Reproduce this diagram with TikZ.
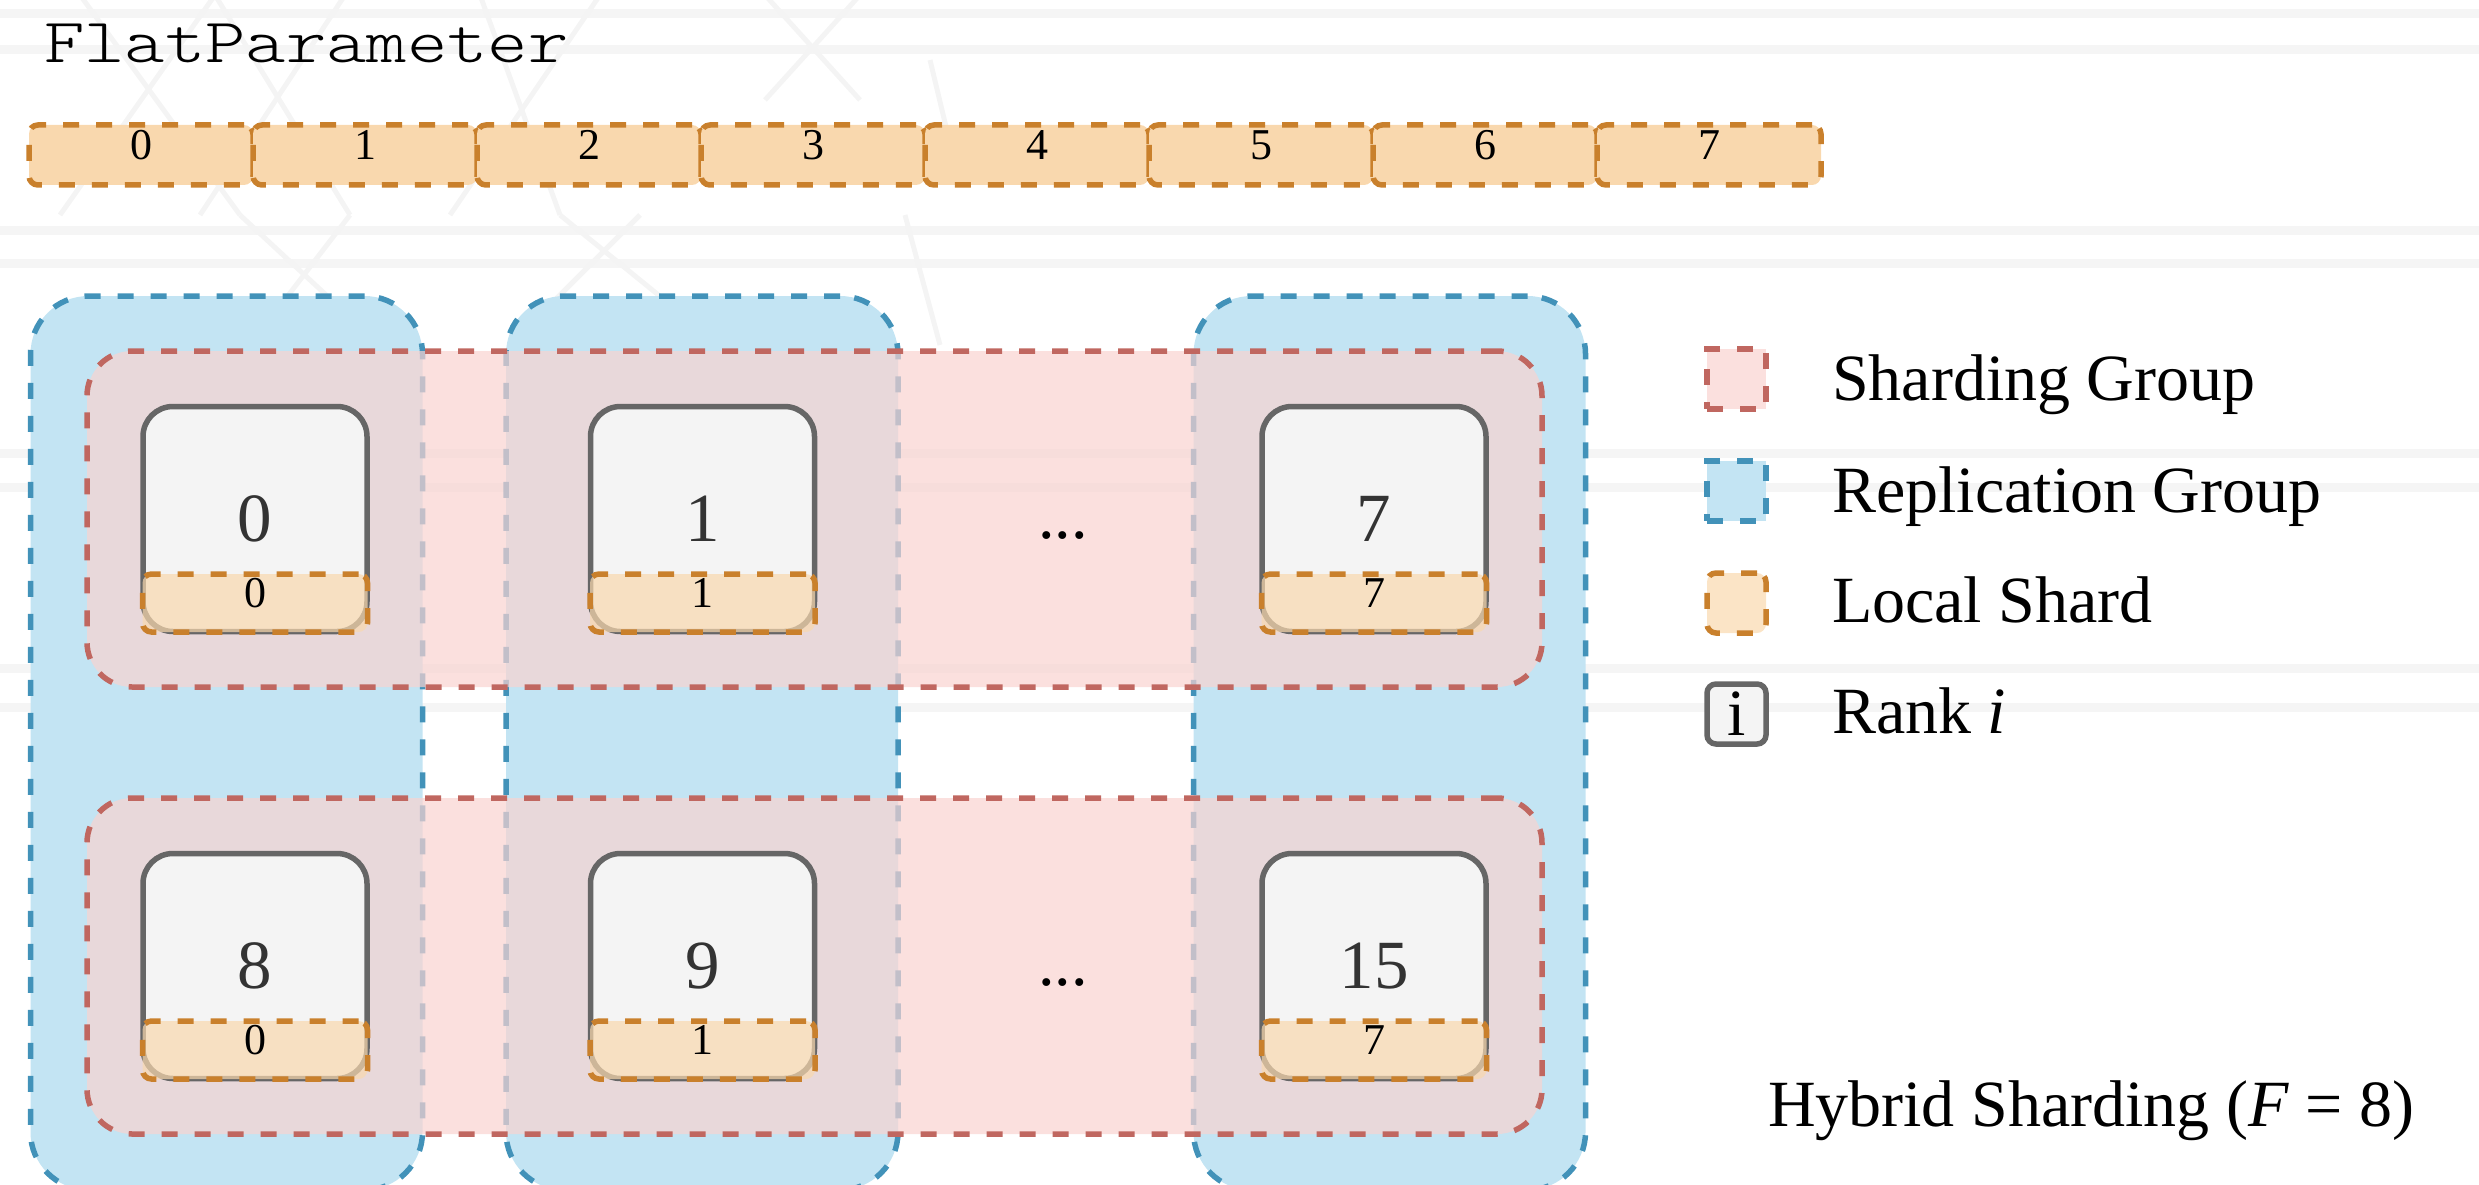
\documentclass[tikz,border=0pt]{standalone}
\usepackage{fontspec}
\setmainfont{Liberation Serif}
\newfontfamily\flatfont{lmmonolt10-regular.otf}[FakeStretch=1.22]

\definecolor{repfill}{RGB}{195,228,243}
\definecolor{repline}{RGB}{66,146,185}
\definecolor{shdfill}{RGB}{249,211,208}
\definecolor{shdline}{RGB}{192,103,96}
\definecolor{locfill}{RGB}{249,216,174}
\definecolor{locline}{RGB}{201,128,44}
\definecolor{rankfill}{RGB}{244,244,244}
\definecolor{rankline}{RGB}{102,102,102}
\definecolor{rankdigit}{RGB}{51,51,51}
\definecolor{bgline}{RGB}{245,245,245}
\definecolor{bgmesh}{RGB}{244,244,244}

\begin{document}
\begin{tikzpicture}[x=1pt, y=-1pt,
  dsh/.style={line width=5.5pt, dash pattern=on 16pt off 17pt},
  box/.style={rectangle, inner sep=0pt, outer sep=0pt},
  repgroup/.style={box, draw=repline, fill=repfill, dsh, rounded corners=58pt,
    minimum width=392pt, minimum height=894pt},
  shdgroup/.style={box, draw=shdline, fill=shdfill, fill opacity=0.7, draw opacity=1,
    dsh, rounded corners=45pt, minimum width=1455pt, minimum height=336pt},
  rank/.style={box, draw=rankline, fill=rankfill, line width=5.5pt, rounded corners=30pt,
    minimum width=224pt, minimum height=225pt, text=rankdigit,
    font=\fontsize{69}{80}\selectfont},
  shard/.style={box, draw=locline, fill=locfill, fill opacity=0.7, text opacity=1,
    dsh, rounded corners=9pt, minimum width=225pt, minimum height=58pt,
    font=\fontsize{44}{52}\selectfont, text height=0.88em, text depth=0pt},
  barseg/.style={box, draw=locline, fill=locfill, dsh, rounded corners=9pt,
    minimum width=224pt, minimum height=60pt,
    font=\fontsize{44}{52}\selectfont, text height=0.9em, text depth=0pt},
  dots/.style={box, font=\fontsize{66}{79}\selectfont},
  legicon/.style={box, minimum width=59pt, minimum height=60pt},
  legtext/.style={box, anchor=base west, font=\fontsize{66}{79}\selectfont},
]
\useasboundingbox (0,0) rectangle (2479,1185);

% faint background rules and mesh
\foreach \yy in {14,50,231,263,453,487,668,707}
  \draw[bgline, line width=9pt] (0,\yy) -- (2479,\yy);
\foreach \xa/\ya/\xb/\yb in {80/-5/240/215, 215/-5/60/215, 215/-5/350/215, 345/-5/200/215,
    480/-5/560/215, 600/-5/450/215, 765/-5/860/100, 860/-5/765/100, 930/60/960/185,
    240/215/380/345, 350/215/250/345, 560/215/720/345, 640/215/510/345, 905/215/940/345}
  \draw[bgmesh, line width=5pt] (\xa,\ya) -- (\xb,\yb);

% title and the flat parameter split into eight pieces
\node[box, anchor=base west, font=\flatfont\fontsize{63}{75}\selectfont] (title) at (44,63) {FlatParameter};
\foreach \i in {0,...,7}
  \node[barseg] (seg\i) at ({141+224*\i},155) {\i};

% replication groups (columns)
\node[repgroup] (rep1) at (226.5,743) {};
\node[repgroup] (rep2) at (702,743) {};
\node[repgroup] (rep3) at (1389.5,743) {};

% sharding groups (rows)
\node[shdgroup] (shd1) at (814.5,519) {};
\node[shdgroup] (shd2) at (814.5,966) {};

% ranks with their local shards
\foreach \name/\xx/\yy/\r/\s in {r0/255/519/0/0, r1/702.5/519/1/1, r7/1374/519/7/7,
                                  r8/255/966/8/0, r9/702.5/966/9/1, r15/1374/966/15/7} {
  \node[rank] (\name) at (\xx,\yy) {\r};
  \node[shard] (\name s) at (\xx,\yy+84) {\s};
}

\node[dots] (dots1) at (1063,536) {...};
\node[dots] (dots2) at (1063,983) {...};

% legend
\node[legicon, draw=shdline, fill=shdfill, fill opacity=0.7, draw opacity=1, dsh] (lg1) at (1736.5,379) {};
\node[legicon, draw=repline, fill=repfill, dsh] (lg2) at (1736.5,491) {};
\node[legicon, draw=locline, fill=locfill, fill opacity=0.7, draw opacity=1, dsh, rounded corners=9pt] (lg3) at (1736.5,603) {};
\node[legicon, draw=rankline, fill=rankfill, line width=5.5pt, rounded corners=9pt,
  font=\fontsize{66}{76}\selectfont] (lg4) at (1736.5,714) {i};

\node[legtext] (lt1) at (1832,400) {Sharding Group};
\node[legtext] (lt2) at (1832,512) {Replication Group};
\node[legtext] (lt3) at (1832,622) {Local Shard};
\node[legtext] (lt4) at (1832,733) {Rank \textit{i}};

\node[legtext] (caption) at (1768,1126) {Hybrid Sharding (\textit{F} = 8)};
\end{tikzpicture}
\end{document}
